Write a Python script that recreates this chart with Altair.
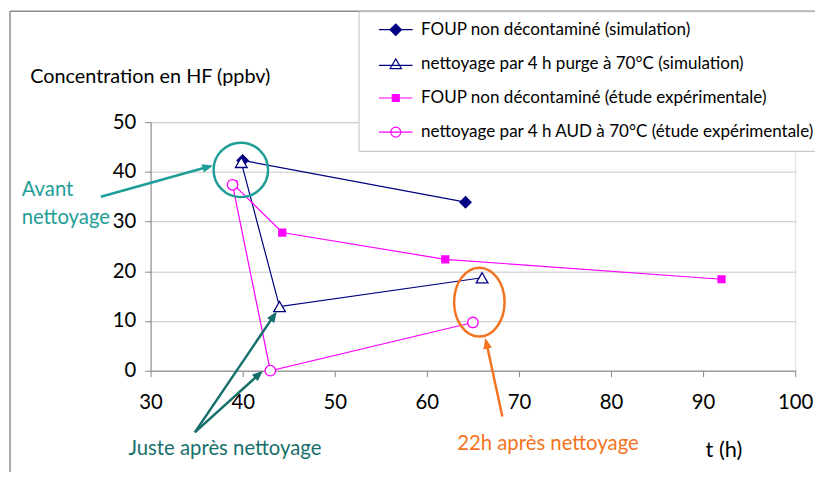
import math
import altair as alt
import pandas as pd

# ---------------- data ----------------
series_names = [
    "FOUP non décontaminé (simulation)",
    "nettoyage par 4 h purge à 70°C (simulation)",
    "FOUP non décontaminé (étude expérimentale)",
    "nettoyage par 4 h AUD à 70°C (étude expérimentale)",
]
sim_foup_t = [40.0, 64.2]
sim_foup_c = [42.3, 33.9]
sim_clean_t = [39.85, 44.0, 66.0]
sim_clean_c = [41.9, 12.9, 18.7]
exp_foup_t = [39.0, 44.3, 62.0, 92.0]
exp_foup_c = [37.5, 27.8, 22.4, 18.4]
exp_clean_t = [38.9, 43.0, 65.0]
exp_clean_c = [37.4, 0.0, 9.7]

x_ticks = [30, 40, 50, 60, 70, 80, 90, 100]
y_ticks = [0, 10, 20, 30, 40, 50]

ann_texts = ["Avant", "nettoyage", "Juste après nettoyage", "22h après nettoyage"]
ann_t = [16.0, 16.0, 27.6, 63.3]
ann_c = [36.3, 30.8, -15.8, -14.8]
ann_col = ["teal", "teal", "dark", "orange"]

arrow_start_t = [24.6, 34.8, 34.8, 68.2]
arrow_start_c = [35.0, -12.4, -12.4, -9.2]
arrow_tip_t = [36.8, 43.7, 42.2, 66.35]
arrow_tip_c = [41.3, 11.9, 0.0, 6.6]
arrow_col = ["teal", "dark", "dark", "orange"]

# ---------------- styling ----------------
W, H = 651, 251
NAVY, MAG = "#000080", "#ff00ff"
TEAL, DARK, ORANGE = "#1f9e98", "#176f6c", "#f47320"
col_map = {"teal": TEAL, "dark": DARK, "orange": ORANGE}
FONT = "Lato"

series_t = [sim_foup_t, sim_clean_t, exp_foup_t, exp_clean_t]
series_c = [sim_foup_c, sim_clean_c, exp_foup_c, exp_clean_c]
rows = []
for name, ts, cs in zip(series_names, series_t, series_c):
    for i, (t, c) in enumerate(zip(ts, cs)):
        rows.append({"series": name, "t": t, "c": c, "idx": i})
df = pd.DataFrame(rows)

xs = alt.Scale(domain=[30, 100], nice=False, zero=False)
ys = alt.Scale(domain=[0, 50], nice=False, zero=False)

stroke_scale = alt.Scale(domain=series_names, range=[NAVY, NAVY, MAG, MAG])
fill_scale = alt.Scale(domain=series_names, range=[NAVY, "white", MAG, "white"])

marker_shape = ["diamond", "triangle-up", "square", "circle"]
marker_size = [125, 140, 49, 112]
marker_fill = [NAVY, "white", MAG, "white"]
marker_stroke = [NAVY, NAVY, MAG, MAG]

legend_shapes = [
    "M-3.4,0L3.4,0M-1.15,0L0,-1.15L1.15,0L0,1.15Z",
    "M-3.4,0.3L3.4,0.3M0,-1.0L1.15,0.95L-1.15,0.95Z",
    "M-3.4,0L3.4,0M-0.7,-0.7L0.7,-0.7L0.7,0.7L-0.7,0.7Z",
    "M-3.4,0L3.4,0M-1,0A1,1,0,1,0,1,0A1,1,0,1,0,-1,0Z",
]

x_enc = alt.X("t:Q", scale=xs, axis=alt.Axis(
    values=x_ticks, grid=False, title="t (h)", titleX=560, titleY=80,
    titleAlign="left", titleBaseline="middle", titleFont=FONT, titleFontSize=22,
    titleFontWeight="normal", titleColor="black", labelFlush=False,
    labelFont=FONT, labelFontSize=20.5, labelColor="black", labelPadding=16,
    tickSize=6, domainColor="#868686", tickColor="#868686"))
y_enc = alt.Y("c:Q", scale=ys, axis=alt.Axis(
    values=y_ticks, grid=True, gridColor="#c8c8c8", title="Concentration en HF (ppbv)",
    titleAngle=0, titleX=-122, titleY=-46, titleAlign="left", titleBaseline="middle",
    titleFont=FONT, titleFontSize=20, titleFontWeight="normal", titleColor="black",
    labelFont=FONT, labelFontSize=20.5, labelColor="black", labelPadding=9, labelFlush=False,
    tickSize=6, domainColor="#868686", tickColor="#868686"))

lines = alt.Chart(df).mark_line(strokeWidth=1.2).encode(
    x=x_enc, y=y_enc, detail="series:N", order="idx:Q",
    stroke=alt.Stroke("series:N", scale=stroke_scale, legend=None))

point_layers = []
for name, shp, sz, fl, sk in zip(series_names, marker_shape, marker_size, marker_fill, marker_stroke):
    point_layers.append(
        alt.Chart(df).transform_filter(alt.datum.series == name).mark_point(
            shape=shp, size=sz, fill=fl, stroke=sk, filled=True, strokeWidth=1.3, opacity=1
        ).encode(x="t:Q", y="c:Q")
    )

# legend-only layer (points placed outside the clipped plot area)
leg_df = pd.DataFrame({"series": series_names, "t": [0] * 4, "c": [-100] * 4})
leg = alt.Legend(orient="none", legendX=210, legendY=-112, title=None,
                 padding=10, strokeColor="#c0c0c0", fillColor="white",
                 labelFont=FONT, labelFontSize=17.2, labelColor="black",
                 labelLimit=700, symbolSize=100, symbolOffset=19, labelOffset=17,
                 rowPadding=16.5, symbolStrokeWidth=1.2, symbolOpacity=1)
legend_layer = alt.Chart(leg_df).mark_point(filled=True, clip=True, strokeWidth=1.2, opacity=1).encode(
    x="t:Q", y="c:Q",
    shape=alt.Shape("series:N", scale=alt.Scale(domain=series_names, range=legend_shapes),
                    legend=leg, sort=None),
    fill=alt.Fill("series:N", scale=fill_scale, legend=leg, sort=None),
    stroke=alt.Stroke("series:N", scale=stroke_scale, legend=leg, sort=None))

# annotations
circ_df = pd.DataFrame({"t": [39.8], "c": [40.4]})
circle = alt.Chart(circ_df).mark_point(shape="circle", size=3025, stroke=TEAL,
                                      strokeWidth=2.5, filled=False, opacity=1).encode(
    x="t:Q", y="c:Q")
ell_df = pd.DataFrame({"t": [65.7], "c": [13.8]})
ellipse = alt.Chart(ell_df).mark_point(
    shape="M-0.733,0A0.733,1,0,1,0,0.733,0A0.733,1,0,1,0,-0.733,0Z",
    size=4844, stroke=ORANGE, strokeWidth=2.5, filled=False, opacity=1).encode(
    x="t:Q", y="c:Q")

px_x, px_y = W / 70.0, H / 50.0
arr_rows = []
head_len = 9.0
for st, sc, tt, tc, col in zip(arrow_start_t, arrow_start_c, arrow_tip_t, arrow_tip_c, arrow_col):
    dxp, dyp = (tt - st) * px_x, (tc - sc) * px_y
    L = math.hypot(dxp, dyp)
    ang = math.degrees(math.atan2(dxp, dyp)) % 360
    bt = tt - (dxp / L) * head_len / px_x
    bc = tc - (dyp / L) * head_len / px_y
    arr_rows.append({"t": st, "c": sc, "t2": bt, "c2": bc, "tt": tt, "tc": tc,
                     "ang": ang, "col": col_map[col]})
arr_df = pd.DataFrame(arr_rows)
arrow_lines = alt.Chart(arr_df).mark_rule(strokeWidth=2.5).encode(
    x="t:Q", y="c:Q", x2="t2:Q", y2="c2:Q",
    color=alt.Color("col:N", scale=None))
arrow_heads = alt.Chart(arr_df).mark_point(
    shape="M0,0L-0.8,2L0.8,2Z", size=121, filled=True, opacity=1, strokeWidth=0).encode(
    x="tt:Q", y="tc:Q", angle=alt.Angle("ang:Q", scale=None),
    fill=alt.Fill("col:N", scale=None))

txt_df = pd.DataFrame({"text": ann_texts, "t": ann_t, "c": ann_c,
                       "col": [col_map[c] for c in ann_col]})
texts = alt.Chart(txt_df).mark_text(align="left", baseline="middle", font=FONT,
                                    fontSize=20.5).encode(
    x="t:Q", y="c:Q", text="text:N", color=alt.Color("col:N", scale=None))

# outer frame of the original figure
frame_left = alt.Chart(pd.DataFrame({"a": [0]})).mark_rule(color="#8c8c8c", strokeWidth=1.5).encode(
    x=alt.value(-142), y=alt.value(-112), y2=alt.value(360))
frame_top = alt.Chart(pd.DataFrame({"a": [0]})).mark_rule(color="#8c8c8c", strokeWidth=1.5).encode(
    x=alt.value(-142), x2=alt.value(675), y=alt.value(-112))

chart = alt.layer(
    frame_left, frame_top, lines, *point_layers, legend_layer,
    circle, ellipse, arrow_lines, arrow_heads, texts,
).resolve_scale(
    shape="independent", fill="independent", stroke="independent", color="independent"
).properties(
    width=W, height=H,
    autosize=alt.AutoSizeParams(type="none"),
    padding={"left": 144, "top": 113, "right": 20, "bottom": 100},
).configure_view(stroke=None).configure(background="white")

chart.save("out.html", embed_options={"renderer": "svg", "actions": False})
